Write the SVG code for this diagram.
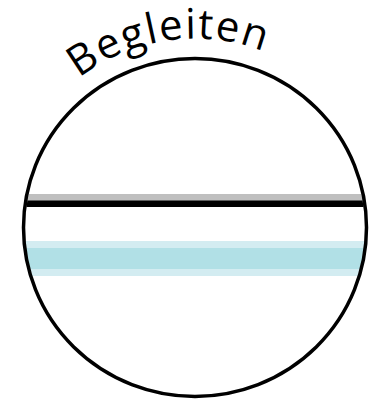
<svg xmlns="http://www.w3.org/2000/svg" width="380" height="402" viewBox="0 0 380 402">
<style>
.lbl{font-family:"Open Sans","Liberation Sans",sans-serif;font-size:42px;fill:#000;letter-spacing:1.5px}
</style>
<defs>
<clipPath id="inner"><ellipse cx="195" cy="227.5" rx="170" ry="167.5"/></clipPath>
<path id="arc" d="M 6 227.5 A 189 189 0 0 1 384 227.5"/>
</defs>
<rect width="380" height="402" fill="#fff"/>
<g id="bands" clip-path="url(#inner)">
<rect x="0" y="194" width="380" height="7" fill="#bfbfbf"/>
<rect x="0" y="241" width="380" height="35" fill="#d3ecf1"/>
<rect x="0" y="248" width="380" height="21" fill="#b1e0e6"/>
</g>
<g id="line" clip-path="url(#inner)">
<rect x="0" y="200.5" width="380" height="6.5" fill="#000"/>
</g>
<g id="circle">
<ellipse cx="195" cy="227.5" rx="171.5" ry="169" fill="none" stroke="#000" stroke-width="3.5"/>
</g>
<g id="label">
<text class="lbl" text-anchor="middle"><textPath href="#arc" startOffset="270">Begleiten</textPath></text>
</g>
</svg>
